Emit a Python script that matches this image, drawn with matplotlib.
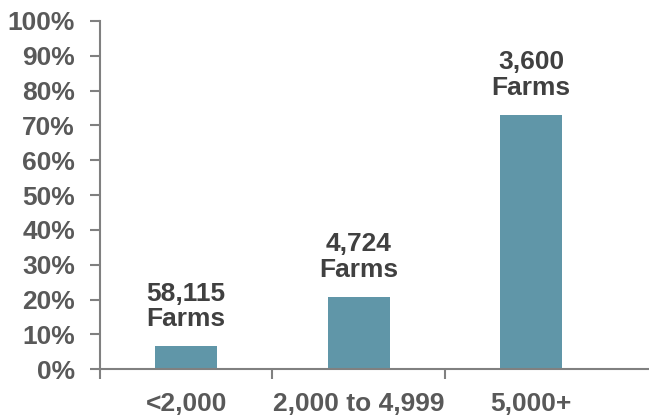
import matplotlib
matplotlib.use("Agg")
import matplotlib.pyplot as plt
from matplotlib.ticker import FixedLocator

categories = ["<2,000", "2,000 to 4,999", "5,000+"]
shares = [6.6, 20.7, 73.0]
farm_labels = ["58,115\nFarms", "4,724\nFarms", "3,600\nFarms"]
yticks = list(range(0, 101, 10))

plt.rcParams['font.family'] = ['Liberation Sans', 'DejaVu Sans']
plt.rcParams['font.weight'] = 'bold'

fig = plt.figure(figsize=(6.49, 4.17), dpi=100)
ax = fig.add_axes([0.154, 0.1144, 0.846, 0.8356])

x = range(len(categories))
bars = ax.bar(x, shares, width=0.36, color='#6096a8', zorder=2)

for b, lab in zip(bars, farm_labels):
    ax.annotate(lab, (b.get_x() + b.get_width() / 2, b.get_height()),
                xytext=(0, 11), textcoords='offset points',
                ha='center', va='bottom', fontsize=19, fontweight='bold',
                color='#404040', linespacing=1.08)

ax.set_xlim(-0.5, 2.684)
ax.set_ylim(0, 100)
ax.set_yticks(yticks)
ax.set_yticklabels([f"{v}%" for v in yticks])
ax.set_xticks(list(x))
ax.set_xticklabels(categories)
ax.xaxis.set_minor_locator(FixedLocator([-0.5, 0.5, 1.5]))

ax.tick_params(axis='x', which='major', length=0, pad=16, labelsize=19, labelcolor='#595959')
ax.tick_params(axis='x', which='minor', length=7, width=1.5, color='#808080', direction='out')
ax.tick_params(axis='y', length=7, width=1.5, color='#808080', pad=11, labelsize=19, labelcolor='#595959')

for s in ['top', 'right']:
    ax.spines[s].set_visible(False)
for s in ['left', 'bottom']:
    ax.spines[s].set_color('#808080')
    ax.spines[s].set_linewidth(1.5)

fig.savefig("out.png", dpi=100)
